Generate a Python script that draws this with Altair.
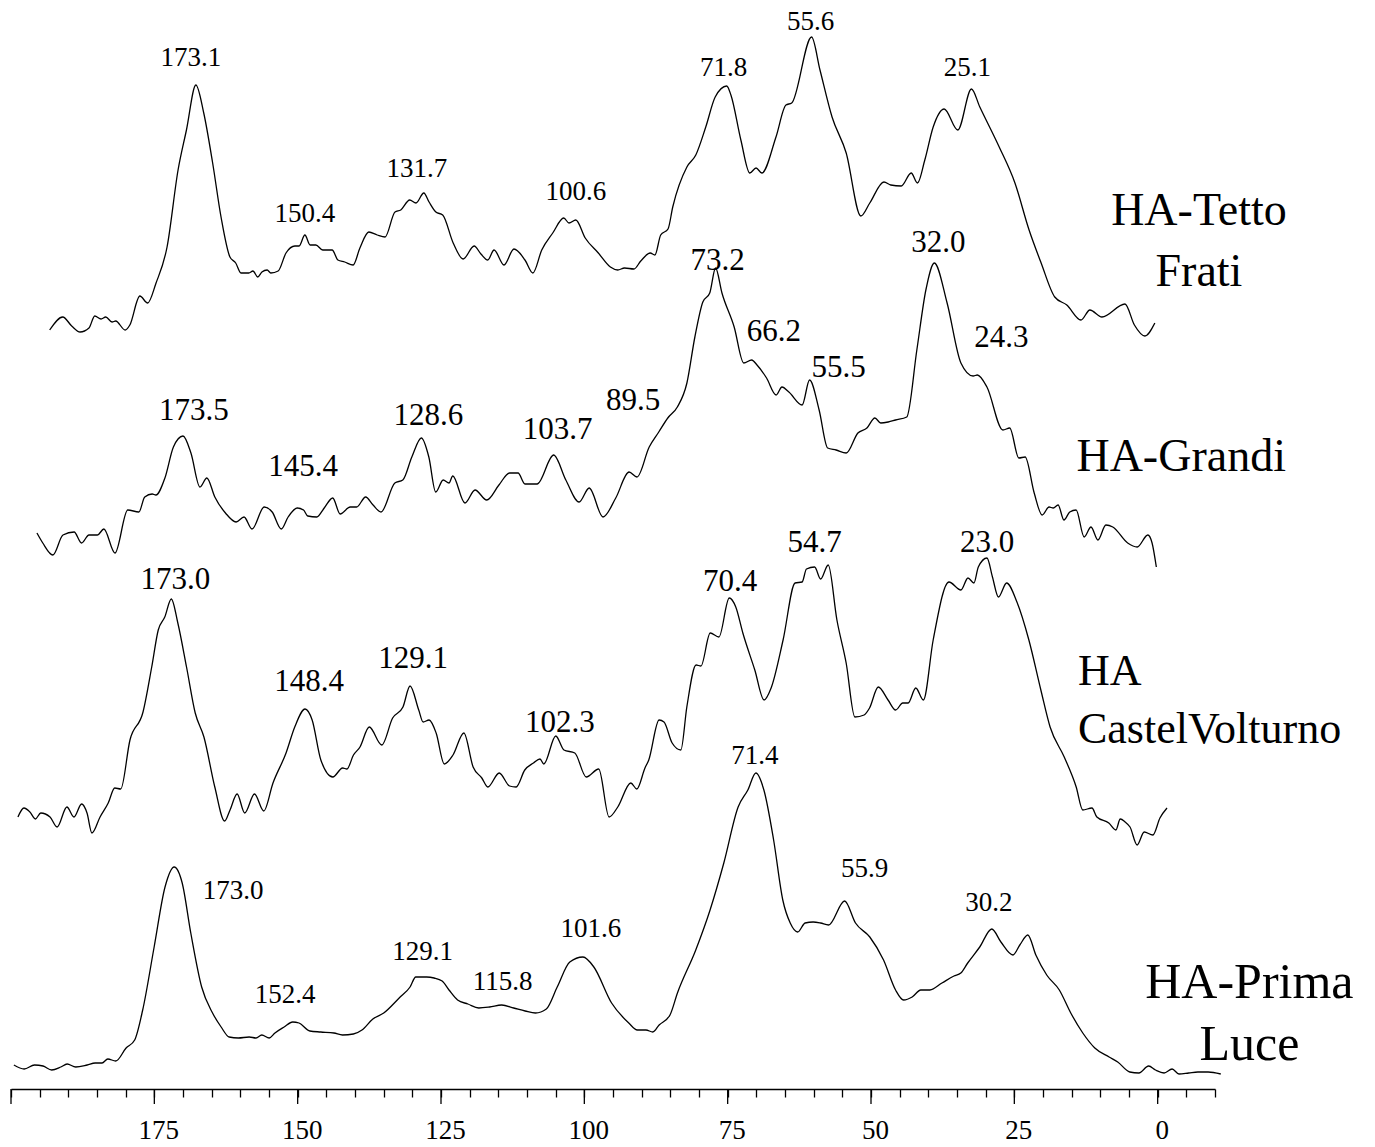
import altair as alt
import pandas as pd

# 13C CPMAS NMR spectra of humic acids: (chemical shift in ppm, intensity in a.u.)
SPECTRA = ["HA-Tetto Frati", "HA-Grandi", "HA CastelVolturno", "HA-Prima Luce"]

TETTO = [(201.0, 10), (198.5, 23), (196.8, 14), (195.2, 8), (193.5, 12), (192.4, 24), (191.2, 21), (190.3, 23),
         (189.1, 18), (188.4, 19), (186.6, 10), (185.7, 15), (183.8, 44), (182.3, 37), (180.7, 57), (178.6, 93),
         (176.5, 170), (174.9, 210), (173.1, 255), (171.6, 227), (169.9, 177), (168.3, 123), (166.6, 83),
         (165.5, 77), (164.5, 67), (163.0, 67), (162.2, 69), (161.3, 63), (160.5, 68), (159.5, 70), (158.8, 67),
         (157.4, 69), (155.9, 87), (154.2, 94), (153.4, 94), (152.3, 105), (151.3, 95), (150.2, 95), (148.9, 90),
         (147.1, 90), (146.0, 80), (144.7, 78), (143.1, 75), (141.8, 92), (140.1, 108), (138.5, 105), (137.0, 103),
         (135.1, 128), (134.0, 130), (132.3, 140), (131.1, 137), (129.6, 147), (128.6, 138), (127.3, 128),
         (126.0, 125), (124.0, 97), (122.1, 81), (120.0, 94), (118.7, 86), (117.4, 80), (116.2, 90), (114.3, 75),
         (112.4, 91), (110.3, 80), (108.8, 67), (107.1, 90), (105.0, 107), (102.9, 122), (101.9, 117), (100.6, 120),
         (98.8, 102), (96.3, 87), (94.0, 73), (92.6, 70), (91.3, 72), (89.5, 71), (88.2, 79), (86.4, 87), (85.5, 85),
         (84.4, 105), (83.0, 111), (82.1, 133), (79.4, 173), (77.7, 185), (75.8, 213), (74.0, 243), (71.8, 254),
         (71.0, 245), (69.1, 200), (67.4, 167), (66.2, 172), (65.1, 167), (62.4, 203), (60.5, 235), (59.4, 237),
         (55.6, 303), (54.0, 270), (51.7, 223), (49.0, 187), (46.2, 124), (44.5, 137), (41.8, 158), (40.5, 155),
         (38.5, 154), (36.6, 167), (35.4, 157), (34.0, 180), (32.4, 213), (30.3, 231), (27.7, 210), (25.1, 251),
         (23.5, 233), (19.8, 193), (16.8, 157), (14.1, 110), (11.8, 77), (9.2, 43), (6.9, 35), (4.2, 20), (2.5, 30),
         (0.2, 23), (-4.2, 36), (-6.0, 15), (-8.0, 4), (-9.9, 17)]

GRANDI = [(201.0, 37), (199.9, 27), (198.0, 15), (196.1, 35), (194.0, 38), (192.6, 27), (191.2, 35), (189.6, 35),
          (188.4, 41), (186.3, 17), (183.9, 60), (181.8, 58), (180.7, 73), (179.3, 76), (178.6, 75), (176.9, 92),
          (175.3, 123), (173.5, 134), (172.0, 117), (170.3, 83), (169.0, 92), (167.5, 73), (165.5, 57), (163.5, 48),
          (162.0, 53), (160.5, 41), (158.2, 63), (156.7, 58), (155.0, 41), (153.7, 53), (152.0, 62), (150.8, 60),
          (150.0, 54), (148.3, 53), (146.9, 62), (145.3, 72), (143.9, 56), (142.0, 63), (140.8, 63), (139.1, 73),
          (137.7, 65), (136.2, 58), (133.6, 87), (132.1, 90), (130.4, 113), (128.6, 132), (127.2, 113), (125.9, 78),
          (124.5, 90), (123.4, 87), (122.7, 94), (120.4, 67), (118.5, 80), (116.3, 70), (114.0, 85), (112.0, 97),
          (110.4, 97), (109.1, 86), (106.8, 86), (103.7, 115), (101.4, 90), (98.9, 68), (97.0, 82), (94.4, 53),
          (92.0, 72), (89.5, 98), (88.0, 93), (85.7, 123), (83.9, 138), (82.2, 152), (80.4, 163), (78.6, 187),
          (77.1, 233), (75.6, 268), (74.3, 277), (73.2, 302), (72.0, 277), (69.7, 243), (67.9, 207), (66.4, 210),
          (65.4, 205), (63.6, 192), (61.8, 175), (60.7, 183), (59.4, 178), (56.9, 165), (55.5, 190), (53.7, 160),
          (52.1, 122), (50.5, 120), (48.6, 117), (46.4, 137), (44.7, 142), (43.2, 152), (42.1, 147), (40.7, 148),
          (39.3, 150), (37.2, 153), (35.3, 220), (33.6, 280), (32.0, 307), (29.6, 267), (27.0, 207), (24.7, 194),
          (23.9, 195), (22.1, 183), (19.1, 140), (17.8, 142), (16.1, 112), (14.9, 113), (13.2, 77), (11.7, 55),
          (10.4, 63), (9.6, 62), (8.7, 65), (7.6, 50), (6.5, 58), (5.3, 60), (3.8, 33), (2.5, 43), (1.2, 30),
          (-0.3, 45), (-1.6, 43), (-4.4, 27), (-6.2, 23), (-8.2, 35), (-9.0, 27), (-9.8, 3)]

CASTEL = [(201.2, 33), (200.1, 42), (199.0, 38), (198.0, 31), (197.0, 37), (195.3, 33), (194.0, 23), (192.2, 43),
          (190.9, 33), (189.5, 46), (188.5, 37), (187.6, 17), (186.1, 33), (184.6, 47), (183.4, 62), (182.3, 61),
          (180.6, 110), (178.2, 138), (176.6, 183), (175.4, 220), (174.2, 233), (173.0, 251), (171.8, 227),
          (170.2, 183), (168.6, 137), (167.0, 113), (165.0, 63), (163.2, 29), (162.2, 40), (160.9, 56), (159.5, 37),
          (157.7, 56), (156.0, 39), (154.3, 67), (151.9, 97), (150.3, 123), (148.4, 141), (147.1, 130), (145.5, 90),
          (143.3, 73), (141.5, 82), (140.7, 81), (139.5, 95), (138.3, 103), (136.6, 123), (134.3, 105), (132.3, 132),
          (130.4, 143), (129.1, 164), (127.5, 140), (126.7, 128), (125.6, 130), (124.3, 117), (122.8, 86),
          (121.2, 95), (119.2, 117), (117.5, 83), (115.9, 72), (114.8, 63), (112.7, 77), (110.8, 64), (109.6, 63),
          (108.0, 80), (106.4, 87), (105.2, 91), (104.5, 86), (102.3, 114), (100.8, 100), (98.8, 97), (96.7, 73),
          (94.4, 81), (92.5, 33), (90.9, 43), (88.5, 67), (87.4, 61), (85.9, 82), (85.2, 90), (83.3, 130),
          (82.4, 128), (80.9, 107), (79.3, 100), (78.2, 143), (76.5, 185), (75.6, 184), (73.9, 217), (72.3, 213),
          (70.4, 252), (69.2, 243), (67.9, 217), (65.7, 180), (64.0, 150), (62.7, 162), (60.5, 210), (58.3, 267),
          (57.0, 268), (56.2, 281), (54.7, 283), (53.6, 271), (52.2, 285), (50.6, 230), (48.9, 187), (47.3, 133),
          (45.6, 135), (44.6, 142), (43.0, 163), (41.2, 150), (39.8, 140), (38.5, 147), (37.5, 147), (36.1, 162),
          (34.7, 150), (32.9, 210), (30.0, 268), (27.8, 260), (26.5, 272), (25.4, 267), (24.6, 283), (23.0, 292),
          (22.0, 273), (20.9, 253), (19.4, 267), (17.5, 248), (15.3, 210), (13.1, 160), (11.4, 123), (8.8, 93),
          (6.6, 63), (5.4, 40), (3.7, 42), (2.8, 33), (0.6, 27), (-0.7, 20), (-1.5, 31), (-2.4, 28), (-3.3, 23),
          (-4.6, 5), (-5.9, 18), (-7.5, 15), (-8.8, 32), (-10.1, 42)]

PRIMA = [(201.0, 15), (199.2, 11), (197.4, 15), (195.9, 14), (194.4, 10), (192.8, 13), (191.7, 16), (190.2, 13),
         (188.2, 15), (186.8, 17), (185.6, 17), (184.6, 21), (183.2, 19), (181.4, 32), (179.9, 40), (178.5, 70),
         (176.5, 133), (174.6, 193), (173.0, 213), (171.6, 197), (170.1, 147), (168.2, 93), (166.3, 67), (164.8, 53),
         (163.4, 43), (161.8, 42), (159.9, 43), (158.7, 42), (157.7, 45), (156.4, 42), (155.4, 47), (153.8, 53),
         (152.3, 58), (151.2, 57), (149.3, 49), (147.4, 48), (145.1, 47), (143.6, 45), (141.7, 46), (140.2, 50),
         (138.3, 61), (136.4, 67), (133.7, 82), (131.8, 93), (130.8, 103), (128.9, 103), (127.6, 102), (126.2, 99),
         (125.0, 90), (123.5, 80), (121.7, 76), (119.8, 72), (117.9, 73), (115.8, 75), (113.7, 72), (111.7, 69),
         (109.9, 67), (108.0, 71), (106.1, 93), (103.9, 118), (101.6, 123), (99.7, 113), (96.6, 77), (93.6, 57),
         (92.1, 50), (90.6, 50), (89.4, 48), (88.3, 55), (86.4, 65), (85.1, 87), (81.9, 130), (79.4, 170),
         (77.0, 217), (74.5, 273), (72.8, 290), (71.4, 307), (70.0, 290), (68.3, 240), (66.7, 180), (65.4, 157),
         (64.1, 148), (62.8, 157), (61.4, 158), (60.1, 157), (58.7, 155), (55.9, 179), (54.0, 157), (51.5, 143),
         (49.1, 120), (47.0, 90), (45.6, 80), (44.1, 83), (42.6, 90), (41.0, 90), (38.9, 97), (36.8, 104),
         (35.6, 107), (34.4, 117), (32.3, 133), (30.2, 151), (28.6, 138), (26.5, 125), (25.3, 135), (23.9, 145),
         (22.5, 125), (20.6, 105), (18.4, 90), (16.4, 67), (14.3, 47), (12.2, 32), (9.7, 23), (8.2, 18), (6.1, 8),
         (4.5, 7), (2.8, 14), (1.6, 10), (0.1, 7), (-1.3, 11), (-2.5, 6), (-4.2, 7), (-5.8, 8), (-7.6, 8), (-9.8, 6)]

# assigned peak positions (ppm)
TETTO_PEAKS = [173.1, 150.4, 131.7, 100.6, 71.8, 55.6, 25.1]
GRANDI_PEAKS = [173.5, 145.4, 128.6, 103.7, 89.5, 73.2, 66.2, 55.5, 32.0, 24.3]
CASTEL_PEAKS = [173.0, 148.4, 129.1, 102.3, 70.4, 54.7, 23.0]
PRIMA_PEAKS = [173.0, 152.4, 129.1, 115.8, 101.6, 71.4, 55.9, 30.2]

# ppm scale: small ticks every 5 ppm, long ticks every 25 ppm
MINOR_TICKS = list(range(200, -11, -5))
MAJOR_TICKS = [200, 175, 150, 125, 100, 75, 50, 25, 0]

# ---- layout -------------------------------------------------------------
PLOT_W, PLOT_H = 1204, 1089
PX_PER_PPM = PLOT_W / 210.0
SERIF = "Liberation Serif"

# vertical offset of each trace, horizontal stretch/shift of each trace on the
# common ppm axis, label font size, and per-label (nudge px, height) placement
LAYOUT = {
    "HA-Tetto Frati": dict(offset=749, scale=0.9140, shift=9.54, font=27,
                           nudge=[-5, -10, 4, 0, -3, -1, -4],
                           lift=[282, 126, 171, 148, 272, 318, 272]),
    "HA-Grandi": dict(offset=519, scale=0.9262, shift=9.31, font=31,
                      nudge=[11, -29, 7, 4, 4, 2, 21, 29, 4, 26],
                      lift=[159, 103, 154, 140, 169, 309, 238, 202, 327, 232]),
    "HA CastelVolturno": dict(offset=239, scale=0.9485, shift=7.95, font=31,
                              nudge=[4, 4, 3, 4, 1, 0, 0],
                              lift=[270, 168, 191, 127, 268, 307, 307]),
    "HA-Prima Luce": dict(offset=9, scale=0.9986, shift=-1.22, font=27,
                          nudge=[59, -7, -3, 1, 8, -1, 20, -3],
                          lift=[189, 85, 128, 98, 151, 324, 211, 177]),
}

# sample names: (text, axis position, height, alignment, font size)
NAMES = [
    ("HA-Tetto", -7.2, 878, "center", 46),
    ("Frati", -7.2, 817, "center", 46),
    ("HA-Grandi", -4.1, 632, "center", 46),
    ("HA", 13.9, 417, "left", 44),
    ("CastelVolturno", 13.9, 359, "left", 44),
    ("HA-Prima", -16.0, 106, "center", 50),
    ("Luce", -16.0, 44, "center", 50),
]

# ---- tables -------------------------------------------------------------
trace_rows = []
for name, pts in zip(SPECTRA, [TETTO, GRANDI, CASTEL, PRIMA]):
    lay = LAYOUT[name]
    for i, (ppm, inten) in enumerate(pts):
        trace_rows.append(dict(spectrum=name, order=i, ppm=ppm, intensity=inten,
                               pos=lay["scale"] * ppm + lay["shift"],
                               level=lay["offset"] + inten))
traces = pd.DataFrame(trace_rows)

label_rows = []
for name, peaks in zip(SPECTRA, [TETTO_PEAKS, GRANDI_PEAKS, CASTEL_PEAKS, PRIMA_PEAKS]):
    lay = LAYOUT[name]
    for v, dx, lift in zip(peaks, lay["nudge"], lay["lift"]):
        label_rows.append(dict(spectrum=name, label=f"{v:.1f}",
                               pos=lay["scale"] * v + lay["shift"] - dx / PX_PER_PPM,
                               level=lay["offset"] + lift, fsize=lay["font"]))
labels = pd.DataFrame(label_rows)

names = pd.DataFrame([dict(text=t, pos=p, level=h, align=a, fsize=s) for t, p, h, a, s in NAMES])
major = pd.DataFrame({"pos": MAJOR_TICKS})

# ---- encodings ----------------------------------------------------------
ppm_axis = alt.Axis(
    values=MINOR_TICKS,
    tickSize=8, tickColor="black", tickWidth=1.3,
    domainColor="black", domainWidth=1.3,
    labelExpr="(datum.value % 25 === 0 && datum.value < 200) ? datum.label : ''",
    labelFont=SERIF, labelFontSize=27, labelColor="black",
    labelPadding=20, labelOffset=4, labelOverlap=False, labelFlush=False,
    grid=False, title=None,
)
x_enc = alt.X("pos:Q", scale=alt.Scale(domain=[200, -10], nice=False, zero=False), axis=ppm_axis, title=None)
y_enc = alt.Y("level:Q", scale=alt.Scale(domain=[0, PLOT_H], nice=False, zero=False), axis=None)

lines = alt.Chart(traces).mark_line(color="black", strokeWidth=1.3, interpolate="monotone").encode(
    x=x_enc, y=y_enc, detail="spectrum:N", order="order:Q")

major_ticks = alt.Chart(major).mark_rule(color="black", strokeWidth=1.3).encode(
    x=x_enc, y=alt.value(PLOT_H), y2=alt.value(PLOT_H + 15))

peak_text = alt.Chart(labels).mark_text(font=SERIF, color="black", align="center", baseline="middle").encode(
    x=x_enc, y=y_enc, text="label:N", size=alt.Size("fsize:Q", scale=None))

name_center = alt.Chart(names).transform_filter("datum.align === 'center'").mark_text(
    font=SERIF, color="black", align="center", baseline="middle").encode(
    x=x_enc, y=y_enc, text="text:N", size=alt.Size("fsize:Q", scale=None))

name_left = alt.Chart(names).transform_filter("datum.align === 'left'").mark_text(
    font=SERIF, color="black", align="left", baseline="middle").encode(
    x=x_enc, y=y_enc, text="text:N", size=alt.Size("fsize:Q", scale=None))

chart = alt.layer(lines, major_ticks, peak_text, name_center, name_left).properties(
    width=PLOT_W, height=PLOT_H,
    autosize=alt.AutoSizeParams(type="none"),
    padding={"left": 11, "top": 0, "right": 160, "bottom": 58},
    background="white",
).configure_view(stroke=None)

chart.save("out.html", embed_options={"renderer": "svg", "actions": False})
